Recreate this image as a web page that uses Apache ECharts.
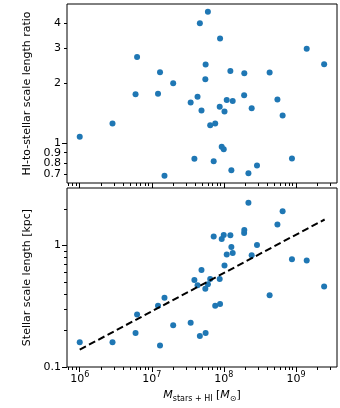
<!DOCTYPE html>
<html>
<head>
<meta charset="utf-8">
<script src="https://cdn.jsdelivr.net/npm/echarts@6/dist/echarts.min.js"></script>
<style>
html, body { margin: 0; padding: 0; background: #fff; }
#chart { width: 340px; height: 408px; }
</style>
</head>
<body>
<div id="chart"></div>
<script>
// galaxies sorted by M_stars+HI, same order in both panels
const mass = [1.0e6, 2.85e6, 5.95e6, 6.25e6, 1.22e7, 1.30e7, 1.50e7, 1.98e7, 3.46e7, 3.90e7,
  4.31e7, 4.64e7, 4.89e7, 5.53e7, 5.58e7, 6.0e7, 6.46e7, 7.22e7, 7.58e7, 8.75e7,
  8.85e7, 9.33e7, 9.95e7, 1.02e8, 1.095e8, 1.23e8, 1.27e8, 1.325e8, 1.91e8, 1.92e8,
  2.19e8, 2.43e8, 2.88e8, 4.31e8, 5.53e8, 6.53e8, 8.8e8, 1.41e9, 2.46e9]
// top panel: HI-to-stellar scale length ratio
const ratio = [1.08, 1.26, 1.76, 2.70, 1.77, 2.27, 0.69, 2.00, 1.60, 0.84,
  1.71, 3.98, 1.46, 2.09, 2.48, 4.54, 1.235, 0.816, 1.26, 1.525,
  3.34, 0.962, 0.937, 1.445, 1.65, 2.30, 0.735, 1.63, 1.74, 2.24,
  0.711, 1.50, 0.776, 2.26, 1.66, 1.38, 0.841, 2.97, 2.49]
// bottom panel: stellar scale length [kpc]
const scaleLength = [0.16, 0.16, 0.191, 0.270, 0.32, 0.150, 0.371, 0.221, 0.231, 0.521,
  0.471, 0.180, 0.63, 0.44, 0.191, 0.48, 0.531, 1.186, 0.32, 0.531,
  0.331, 1.135, 1.224, 0.684, 0.843, 1.217, 0.975, 0.87, 1.27, 1.346,
  2.25, 0.832, 1.01, 0.39, 1.49, 1.92, 0.772, 0.752, 0.46]
// dashed fit line ends
const fitMass = [1.0e6, 2.5e9]
const fitLength = [0.139, 1.64]

const xPowers = [6, 7, 8, 9]
const ratioLabels = [0.7, 0.8, 0.9, 1, 2, 3, 4]
const lengthLabels = [0.1, 1]

const xRange = [6.66e5, 3.71e9]
const ratioRange = [0.635, 4.97]
const lengthRange = [0.1, 2.98]

const FONT = 'DejaVu Sans'
const FS = 11
const lg = Math.log10

// matplotlib style minor ticks at 2..9 x 10^n
function minorLogs (range) {
  const out = []
  for (let p = Math.floor(lg(range[0])); p <= Math.ceil(lg(range[1])); p++) {
    for (let k = 2; k <= 9; k++) {
      const v = lg(k * Math.pow(10, p))
      if (v > lg(range[0]) && v < lg(range[1])) out.push(v)
    }
  }
  return out
}

// overlay axis in log10 units, only used for ticks / labels
function tickAxis (kind, grid, range, ticks, len, labels, formatter, extra) {
  const ax = {
    type: 'value',
    gridIndex: grid,
    position: kind === 'x' ? 'bottom' : 'left',
    min: lg(range[0]),
    max: lg(range[1]),
    splitLine: { show: false },
    axisLine: { show: false, onZero: false },
    axisTick: { show: true, customValues: ticks, length: len, lineStyle: { color: '#000', width: 1 } },
    axisLabel: labels
      ? { show: true, customValues: labels, formatter: formatter, color: '#000', fontFamily: FONT, fontSize: FS, margin: kind === 'x' ? 4 : 6 }
      : { show: false }
  }
  return Object.assign(ax, extra || {})
}

const dataAxis = (grid, range) => ({
  type: 'log', gridIndex: grid, min: range[0], max: range[1], show: false,
  axisLine: { onZero: false }, splitLine: { show: false }
})

const powLabel = v => '{b|10}{s|' + Math.round(v) + '}'
const numLabel = v => String(+Math.pow(10, v).toFixed(1))

const chart = echarts.init(document.getElementById('chart'))
const option = {
  animation: false,
  grid: [
    { left: 67, right: 3, top: 4, height: 179, show: true, borderColor: '#000', borderWidth: 1 },
    { left: 67, right: 3, top: 188, height: 179, show: true, borderColor: '#000', borderWidth: 1 }
  ],
  xAxis: [
    dataAxis(0, xRange),
    tickAxis('x', 0, xRange, xPowers, 5, null),
    tickAxis('x', 0, xRange, minorLogs(xRange), 3, null),
    dataAxis(1, xRange),
    tickAxis('x', 1, xRange, xPowers, 5, xPowers, powLabel, {
      name: '{i|M}{sub|stars + HI} {n|[}{i|M}{sub|\u2299}{n|]}',
      nameLocation: 'middle',
      nameGap: 23,
      nameTextStyle: {
        rich: {
          i: { fontFamily: FONT, fontSize: FS, fontStyle: 'italic', color: '#000', lineHeight: 13, verticalAlign: 'top' },
          n: { fontFamily: FONT, fontSize: FS, color: '#000', lineHeight: 13, verticalAlign: 'top' },
          sub: { fontFamily: FONT, fontSize: 8, color: '#000', lineHeight: 8, verticalAlign: 'bottom' }
        }
      }
    }),
    tickAxis('x', 1, xRange, minorLogs(xRange), 3, null)
  ],
  yAxis: [
    dataAxis(0, ratioRange),
    tickAxis('y', 0, ratioRange, [0], 5, ratioLabels.map(lg), numLabel, {
      name: 'HI-to-stellar scale length ratio',
      nameLocation: 'middle',
      nameRotate: 90,
      nameGap: 28,
      nameTextStyle: { fontFamily: FONT, fontSize: FS, color: '#000' }
    }),
    tickAxis('y', 0, ratioRange, minorLogs(ratioRange), 3, null),
    dataAxis(1, lengthRange),
    tickAxis('y', 1, lengthRange, lengthLabels.map(lg), 5, lengthLabels.map(lg), numLabel, {
      name: 'Stellar scale length [kpc]',
      nameLocation: 'middle',
      nameRotate: 90,
      nameGap: 30,
      nameTextStyle: { fontFamily: FONT, fontSize: FS, color: '#000' }
    }),
    tickAxis('y', 1, lengthRange, minorLogs(lengthRange), 3, null)
  ],
  series: [
    {
      type: 'scatter',
      xAxisIndex: 0,
      yAxisIndex: 0,
      symbolSize: 6,
      itemStyle: { color: '#1f77b4', opacity: 1 },
      data: mass.map((m, i) => [m, ratio[i]])
    },
    {
      type: 'scatter',
      xAxisIndex: 3,
      yAxisIndex: 3,
      symbolSize: 6,
      itemStyle: { color: '#1f77b4', opacity: 1 },
      data: mass.map((m, i) => [m, scaleLength[i]])
    },
    {
      type: 'line',
      xAxisIndex: 3,
      yAxisIndex: 3,
      z: 5,
      symbol: 'none',
      lineStyle: { color: '#000', width: 2, type: [7, 3.5] },
      data: fitMass.map((m, i) => [m, fitLength[i]])
    }
  ]
}
// superscripts for the 10^n labels
option.xAxis[4].axisLabel.rich = {
  b: { fontFamily: FONT, fontSize: FS, color: '#000', lineHeight: 14, verticalAlign: 'bottom' },
  s: { fontFamily: FONT, fontSize: 8, color: '#000', lineHeight: 9, verticalAlign: 'top' }
}
chart.setOption(option)
</script>
</body>
</html>
